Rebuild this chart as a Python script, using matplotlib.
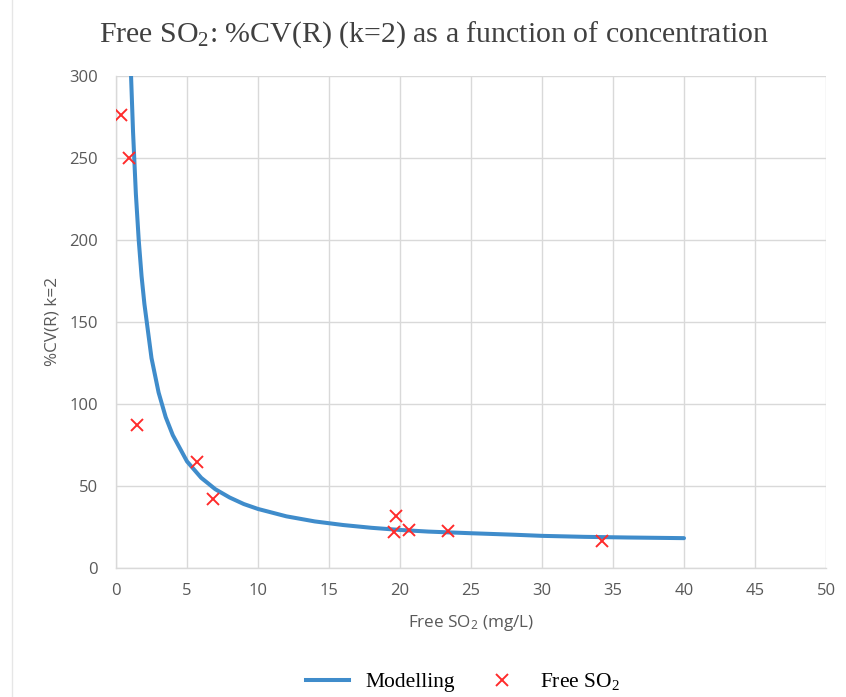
import matplotlib
matplotlib.use("Agg")
import matplotlib.pyplot as plt
from matplotlib.lines import Line2D

plt.rcParams['mathtext.default'] = 'regular'

# Modelled curve
model_x = [1.06, 1.2, 1.4, 1.6, 1.8, 2.0, 2.5, 3.0, 3.5, 4.0, 4.5, 5.0, 6.0, 7.0, 8.0, 9.0,
           10.0, 12.0, 14.0, 16.0, 18.0, 20.0, 22.0, 25.0, 28.0, 30.0, 33.0, 36.0, 40.0]
model_y = [300, 266, 228, 200, 178, 161, 128, 107, 92, 81, 73, 65, 55, 48, 43, 39,
           36, 31.5, 28.4, 26.2, 24.5, 23.2, 22.2, 21.2, 20.3, 19.6, 19.0, 18.6, 18.2]

# Measured points
meas_x = [0.35, 0.9, 1.5, 5.7, 6.8, 19.7, 19.6, 20.6, 23.4, 34.2]
meas_y = [276, 250, 87, 64.5, 42, 31.8, 22, 23, 22.5, 16.5]

xticks = list(range(0, 55, 5))
yticks = list(range(0, 350, 50))

fig = plt.figure(figsize=(8.46, 6.97), dpi=100)
W, H = 846, 697
ax = fig.add_axes([116 / W, 1 - 568 / H, (826 - 116) / W, (568 - 76) / H])

grid_c = '#d9d9d9'
text_c = '#595959'

ax.plot(model_x, model_y, color='#3f8ccb', lw=2.9, solid_capstyle='round', zorder=3, label='Modelling')
ax.plot(meas_x, meas_y, linestyle='none', marker='x', color='#ff2b2b', markersize=8.5,
        markeredgewidth=1.4, zorder=4, label='Free SO$_2$')

ax.set_xlim(0, 50)
ax.set_ylim(0, 300)
ax.set_xticks(xticks)
ax.set_yticks(yticks)
ax.grid(True, color=grid_c, lw=1.0)
ax.set_axisbelow(True)
for s in ['top', 'right']:
    ax.spines[s].set_visible(False)
for s in ['left', 'bottom']:
    ax.spines[s].set_color(grid_c)
    ax.spines[s].set_linewidth(1.0)
ax.tick_params(length=0, colors=text_c, labelsize=12)
ax.tick_params(axis='x', pad=11)
ax.tick_params(axis='y', pad=13)
for lbl in ax.get_xticklabels() + ax.get_yticklabels():
    lbl.set_family('Open Sans')

ax.set_xlabel('Free SO$_2$ (mg/L)', color=text_c, fontsize=12.3, family='Open Sans', labelpad=10)
ax.set_ylabel('%CV(R) k=2', color=text_c, fontsize=12.3, family='Open Sans', labelpad=6.5)

fig.text(434 / W, 1 - 35 / H, 'Free SO$_2$: %CV(R) (k=2) as a function of concentration',
         ha='center', va='center', fontsize=21.5, family='Liberation Serif', color='#404040')

handles = [Line2D([], [], color='#3f8ccb', lw=2.9),
           Line2D([], [], linestyle='none', marker='x', color='#ff2b2b', markersize=8.5, markeredgewidth=1.4)]
fig.legend(handles, ['Modelling', 'Free SO$_2$'], loc='center', bbox_to_anchor=(463 / W, 1 - 682 / H),
           ncol=2, frameon=False, prop={'family': 'Liberation Serif', 'size': 15.5},
           handlelength=2.0, columnspacing=1.2, handletextpad=0.75)

fig.add_artist(Line2D([12 / W, 12 / W], [0, 1], transform=fig.transFigure, color='#e6e6e6', lw=1))

fig.savefig('out.png', dpi=100, facecolor='white')
